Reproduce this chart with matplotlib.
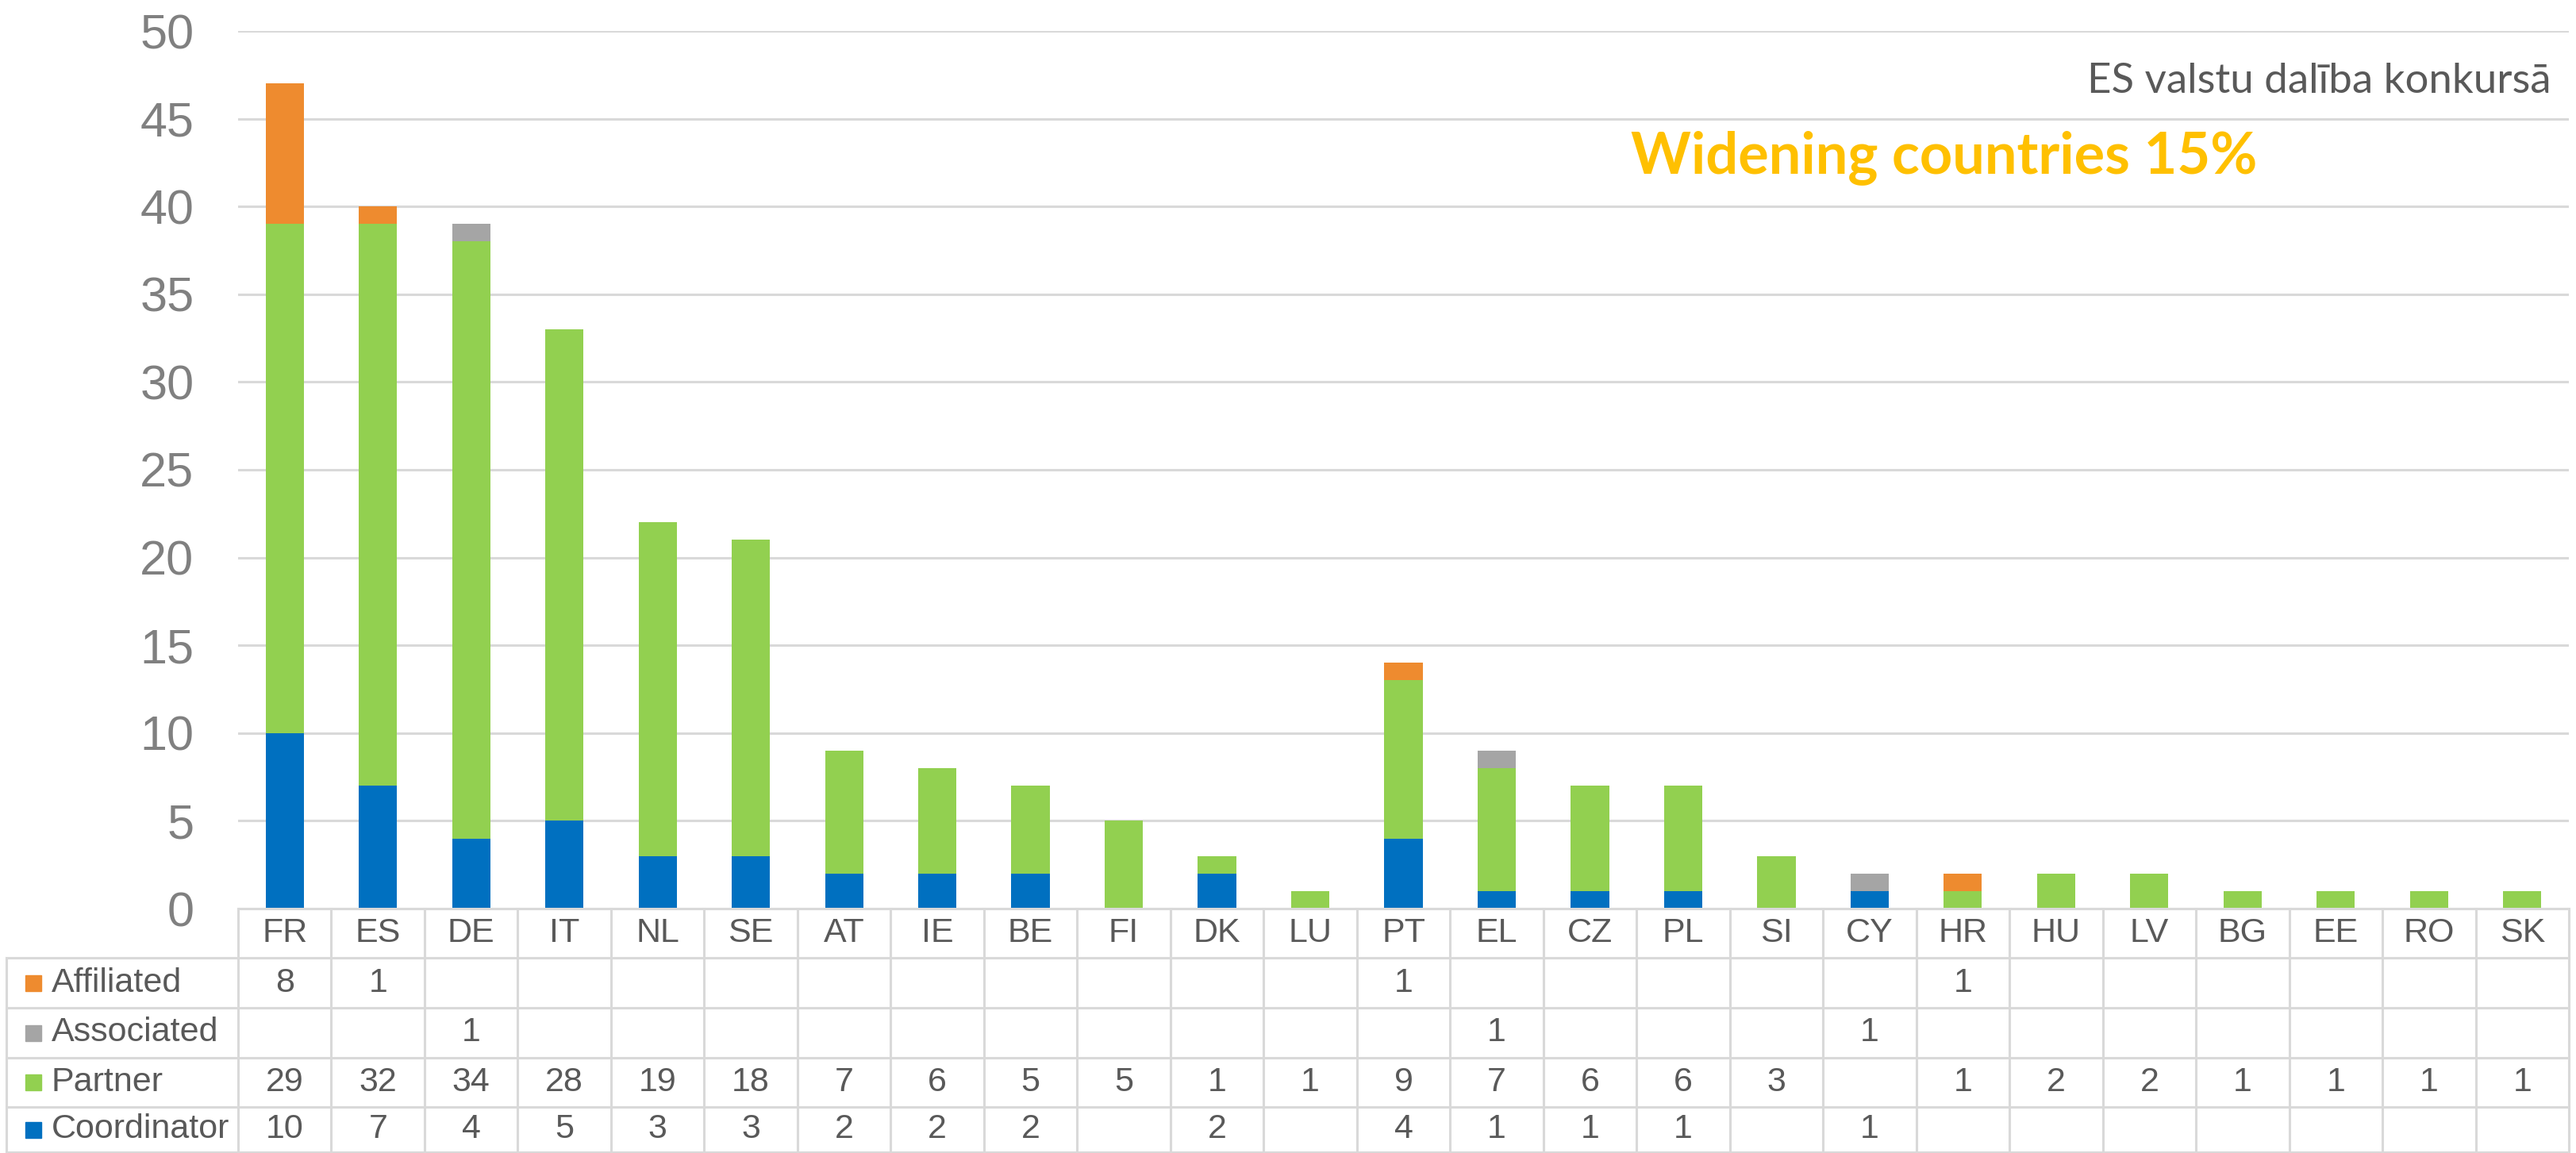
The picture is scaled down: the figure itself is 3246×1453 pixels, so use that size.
import numpy as np
import matplotlib
matplotlib.use("Agg")
from matplotlib import pyplot as plt

countries = ['FR', 'ES', 'DE', 'IT', 'NL', 'SE', 'AT', 'IE', 'BE', 'FI', 'DK', 'LU', 'PT',
             'EL', 'CZ', 'PL', 'SI', 'CY', 'HR', 'HU', 'LV', 'BG', 'EE', 'RO', 'SK']
coordinator = [10, 7, 4, 5, 3, 3, 2, 2, 2, 0, 2, 0, 4, 1, 1, 1, 0, 1, 0, 0, 0, 0, 0, 0, 0]
partner = [29, 32, 34, 28, 19, 18, 7, 6, 5, 5, 1, 1, 9, 7, 6, 6, 3, 0, 1, 2, 2, 1, 1, 1, 1]
associated = [0, 0, 1, 0, 0, 0, 0, 0, 0, 0, 0, 0, 0, 1, 0, 0, 0, 1, 0, 0, 0, 0, 0, 0, 0]
affiliated = [8, 1, 0, 0, 0, 0, 0, 0, 0, 0, 0, 0, 1, 0, 0, 0, 0, 0, 1, 0, 0, 0, 0, 0, 0]

series_names = ['Affiliated', 'Associated', 'Partner', 'Coordinator']
colors = {'Coordinator': '#0070C0', 'Partner': '#92D050',
          'Associated': '#A5A5A5', 'Affiliated': '#EE8B2F'}
values = {'Coordinator': coordinator, 'Partner': partner,
          'Associated': associated, 'Affiliated': affiliated}

W, H = 3246, 1453
fig = plt.figure(figsize=(W / 100, H / 100), dpi=100)

left_px, right_px, zero_px, top_px = 300, 3237, 1145, 39
ax = fig.add_axes([left_px / W, (H - zero_px) / H,
                   (right_px - left_px) / W, (zero_px - top_px) / H])

x = np.arange(len(countries))
bottom = np.zeros(len(countries))
for name in ['Coordinator', 'Partner', 'Associated', 'Affiliated']:
    v = np.array(values[name])
    ax.bar(x, v, 0.41, bottom=bottom, color=colors[name], zorder=3)
    bottom += v

ax.set_xlim(-0.5, len(countries) - 0.5)
ax.set_ylim(0, 50)
ax.set_yticks(range(0, 51, 5))
ax.set_xticks([])
ax.grid(axis='y', color='#D9D9D9', linewidth=2.2, zorder=0)
ax.tick_params(axis='y', length=0, pad=40, labelsize=44, labelcolor='#808080')
for lab in ax.get_yticklabels():
    lab.set_family('Liberation Sans')
for s in ax.spines.values():
    s.set_visible(False)

fig.text(3215 / W, 1 - 117 / H, 'ES valstu dalība konkursā', ha='right', va='baseline',
         fontsize=38, color='#595959', family='Lato')
fig.text(2450 / W, 1 - 218 / H, 'Widening countries 15%', ha='center', va='baseline',
         fontsize=52, color='#FFC000', family='Lato', fontweight='bold')

# data table under the chart
tab = fig.add_axes([left_px / W, 0, (right_px - left_px) / W, (H - zero_px) / H])
tab.set_xlim(-0.5, len(countries) - 0.5)
tab.set_ylim(H - zero_px, 0)
tab.axis('off')

line_c = '#D9D9D9'
lw = 2.2
rows = [62, 125, 188, 250, 307]
n = len(countries)
col_w = (right_px - left_px) / n
label_left = -0.5 - (left_px - 8) / col_w

tab.plot([-0.5, n - 0.5], [0, 0], color=line_c, lw=lw, clip_on=False)
for r in rows:
    tab.plot([label_left, n - 0.5], [r, r], color=line_c, lw=lw, clip_on=False)
for i in range(n + 1):
    tab.plot([i - 0.5, i - 0.5], [0, rows[-1]], color=line_c, lw=lw, clip_on=False)
tab.plot([label_left, label_left], [rows[0], rows[-1]], color=line_c, lw=lw, clip_on=False)

for i, c in enumerate(countries):
    tab.text(i, 31, c, ha='center', va='center', fontsize=31, color='#595959',
             family='Liberation Sans')

for k, name in enumerate(series_names):
    yc = (rows[k] + rows[k + 1]) / 2
    sq_x = label_left + 24 / col_w
    tab.add_patch(plt.Rectangle((sq_x, yc - 10), 20 / col_w, 20, color=colors[name],
                                clip_on=False))
    tab.text(label_left + 57 / col_w, yc, name, ha='left', va='center', fontsize=31,
             color='#595959', family='Liberation Sans', clip_on=False)
    for i, v in enumerate(values[name]):
        if v:
            tab.text(i, yc, str(v), ha='center', va='center', fontsize=31,
                     color='#595959', family='Liberation Sans')

fig.savefig('out.png', dpi=100)
